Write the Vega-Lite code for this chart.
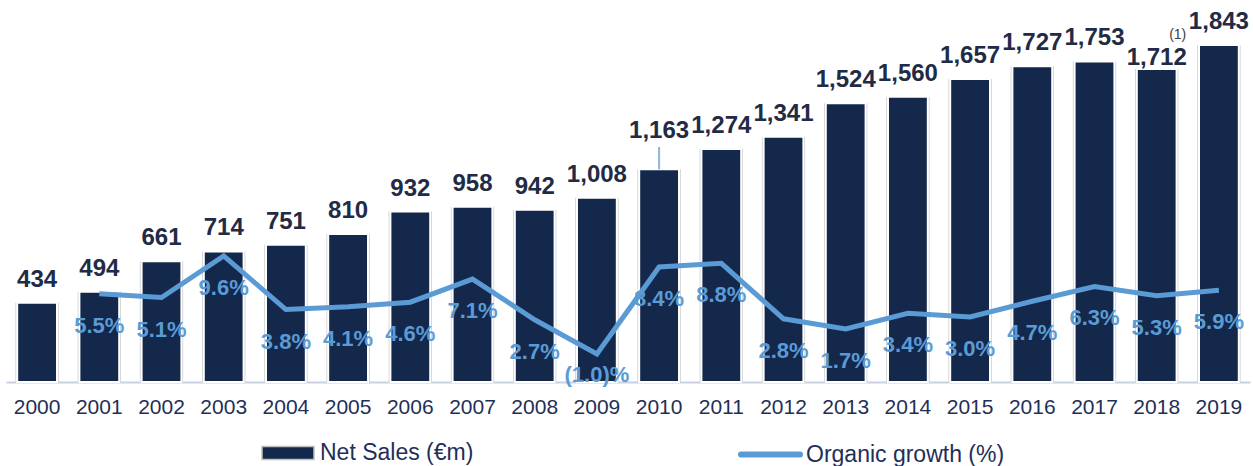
{
  "$schema": "https://vega.github.io/schema/vega-lite/v6.json",
  "width": 1244,
  "height": 382,
  "autosize": {"type": "none"},
  "padding": {"left": 6, "top": 0, "right": 3, "bottom": 84},
  "background": "#ffffff",
  "config": {"view": {"stroke": null}, "font": "Liberation Sans", "axis": {"grid": false}},
  "data": {"values": [
    {"year": "2000", "sales": 434, "growth": null, "glabel": ""},
    {"year": "2001", "sales": 494, "growth": 5.5, "glabel": "5.5%"},
    {"year": "2002", "sales": 661, "growth": 5.1, "glabel": "5.1%"},
    {"year": "2003", "sales": 714, "growth": 9.6, "glabel": "9.6%"},
    {"year": "2004", "sales": 751, "growth": 3.8, "glabel": "3.8%"},
    {"year": "2005", "sales": 810, "growth": 4.1, "glabel": "4.1%"},
    {"year": "2006", "sales": 932, "growth": 4.6, "glabel": "4.6%"},
    {"year": "2007", "sales": 958, "growth": 7.1, "glabel": "7.1%"},
    {"year": "2008", "sales": 942, "growth": 2.7, "glabel": "2.7%"},
    {"year": "2009", "sales": 1008, "growth": -1.0, "glabel": "(1.0)%"},
    {"year": "2010", "sales": 1163, "growth": 8.4, "glabel": "8.4%"},
    {"year": "2011", "sales": 1274, "growth": 8.8, "glabel": "8.8%"},
    {"year": "2012", "sales": 1341, "growth": 2.8, "glabel": "2.8%"},
    {"year": "2013", "sales": 1524, "growth": 1.7, "glabel": "1.7%"},
    {"year": "2014", "sales": 1560, "growth": 3.4, "glabel": "3.4%"},
    {"year": "2015", "sales": 1657, "growth": 3.0, "glabel": "3.0%"},
    {"year": "2016", "sales": 1727, "growth": 4.7, "glabel": "4.7%"},
    {"year": "2017", "sales": 1753, "growth": 6.3, "glabel": "6.3%"},
    {"year": "2018", "sales": 1712, "growth": 5.3, "glabel": "5.3%"},
    {"year": "2019", "sales": 1843, "growth": 5.9, "glabel": "5.9%"}
  ]},
  "encoding": {
    "x": {
      "field": "year", "type": "ordinal",
      "scale": {"paddingInner": 0.2, "paddingOuter": 0.1},
      "axis": {"title": null, "labelAngle": 0, "ticks": false, "domainColor": "#c8d2e2", "domainWidth": 2,
               "labelFontSize": 21, "labelColor": "#1f2f57", "labelPadding": 14, "labelFont": "Liberation Sans"}
    }
  },
  "layer": [
    {
      "encoding": {"y": {"field": "sales", "type": "quantitative", "scale": {"domain": [0, 2089]}, "axis": null}},
      "layer": [
        {"mark": {"type": "bar", "fill": "#cccccc", "width": {"band": 0.87}}},
        {
          "mark": {"type": "bar", "stroke": "#ffffff", "strokeWidth": 2, "width": {"band": 0.8}},
          "encoding": {
            "fill": {"datum": "Net Sales (€m)", "scale": {"range": ["#14284b"]},
              "legend": {"orient": "none", "legendX": 255, "legendY": 426, "title": null,
                "symbolType": "M-1,-0.25L1,-0.25L1,0.25L-1,0.25Z", "symbolSize": 2704,
                "symbolStrokeColor": "#bfbfbf", "symbolStrokeWidth": 1.5,
                "labelFont": "Liberation Sans", "labelFontSize": 23, "labelColor": "#1f2f57",
                "labelOffset": 5, "labelLimit": 400, "padding": 0}}
          }
        },
        {
          "transform": [{"filter": "datum.year != '2010' && datum.year != '2018'"}],
          "mark": {"type": "text", "dy": -16, "baseline": "alphabetic", "fontSize": 24, "fontWeight": "bold", "color": "#222b45"},
          "encoding": {"text": {"field": "sales", "type": "quantitative", "format": ","}}
        },
        {
          "transform": [{"filter": "datum.year == '2010'"}],
          "mark": {"type": "text", "dy": -31, "baseline": "alphabetic", "fontSize": 24, "fontWeight": "bold", "color": "#222b45"},
          "encoding": {"text": {"field": "sales", "type": "quantitative", "format": ","}}
        },
        {
          "transform": [{"filter": "datum.year == '2018'"}],
          "mark": {"type": "text", "dy": -4, "baseline": "alphabetic", "fontSize": 24, "fontWeight": "bold", "color": "#222b45"},
          "encoding": {"text": {"field": "sales", "type": "quantitative", "format": ","}}
        },
        {
          "transform": [{"filter": "datum.year == '2010'"}],
          "mark": {"type": "rule", "stroke": "#8db3e2", "strokeWidth": 2},
          "encoding": {"y2": {"datum": 1285}}
        },
        {
          "transform": [{"filter": "datum.year == '2018'"}],
          "mark": {"type": "text", "text": "(1)", "dx": 21, "dy": -34, "baseline": "middle", "fontSize": 14, "color": "#404040"},
          "encoding": {}
        }
      ]
    },
    {
      "transform": [{"filter": "datum.growth != null"}],
      "encoding": {"y": {"field": "growth", "type": "quantitative", "scale": {"domain": [-4.03, 37.27]}, "axis": null}},
      "layer": [
        {
          "mark": {"type": "line", "strokeWidth": 5},
          "encoding": {
            "stroke": {"datum": "Organic growth (%)", "scale": {"range": ["#5b9bd5"]},
              "legend": {"orient": "none", "legendX": 732, "legendY": 422, "title": null,
                "symbolType": "stroke", "symbolSize": 3481, "symbolStrokeWidth": 6,
                "labelFont": "Liberation Sans", "labelFontSize": 23, "labelColor": "#1f2f57",
                "labelOffset": 3, "labelLimit": 400, "padding": 0,
                "encode": {"symbols": {"update": {"strokeCap": {"value": "round"}}}}}}
          }
        },
        {
          "transform": [{"filter": "datum.year != '2009'"}],
          "mark": {"type": "text", "dy": 32, "baseline": "middle", "fontSize": 22, "fontWeight": "bold", "color": "#5b9bd5"},
          "encoding": {"text": {"field": "glabel", "type": "nominal"}}
        },
        {
          "transform": [{"filter": "datum.year == '2009'"}],
          "mark": {"type": "text", "dy": 21, "baseline": "middle", "fontSize": 22, "fontWeight": "bold", "color": "#5b9bd5"},
          "encoding": {"text": {"field": "glabel", "type": "nominal"}}
        }
      ]
    }
  ],
  "resolve": {"scale": {"y": "independent"}}
}
